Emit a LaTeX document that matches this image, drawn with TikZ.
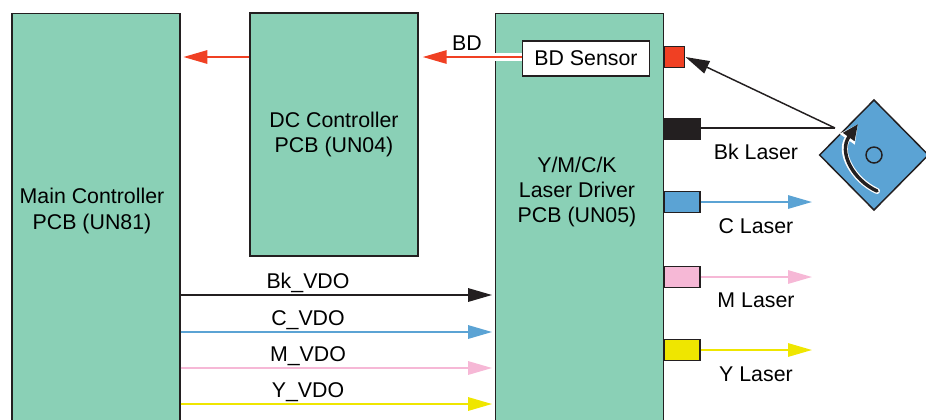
\documentclass[tikz,border=0pt]{standalone}
\usepackage{fontspec}
\setmainfont{Liberation Sans}
\usetikzlibrary{arrows.meta,positioning,calc,shapes.geometric}
\definecolor{pcb}{HTML}{8AD0B6}
\definecolor{ink}{HTML}{231F20}
\definecolor{bdred}{HTML}{F04023}
\definecolor{cblue}{HTML}{5BA3D4}
\definecolor{mpink}{HTML}{F6B8D6}
\definecolor{yyellow}{HTML}{EFE600}

\begin{document}
\begin{tikzpicture}[x=.75pt,y=-.75pt,font=\fontsize{16}{19}\selectfont,
 tip/.style={-{Triangle[length=18pt,width=#1]}},
 n/.style={draw=ink,fill=pcb,line width=1.1pt,minimum width=126pt,inner sep=0pt,align=center},
 t/.style={align=center,inner sep=0pt},
 ld/.style={draw=ink,line width=1.1pt,anchor=west,minimum height=16pt,minimum width=26.5pt,inner sep=0pt,fill=#1},
 a/.style={tip=10pt,line width=1.5pt,draw=#1,fill=#1,shorten >=2pt}]
\useasboundingbox (0,0) rectangle (926,419);
\clip (0,0) rectangle (926,419);
\node[n,minimum height=345pt,anchor=north] (main) at (96,12.5) {};
\node[t] (mainlabel) at (92,211) {Main Controller\\PCB (UN81)};
\node[n,minimum height=182pt] (dc) at (334,134.5) {DC Controller\\PCB (UN04)};
\node[n,minimum height=345pt,anchor=north] (driver) at (579.5,13) {};
\node[t] (driverlabel) at (577,192) {Y/M/C/K\\Laser Driver\\PCB (UN05)};
\node[draw=ink,fill=white,line width=1.1pt,minimum width=95pt,minimum height=26pt,inner sep=0pt] (sensor) at (586,58.5) {BD Sensor};
\node[ld=bdred,minimum width=15pt] (redld) at (664,57) {};
\node[ld=ink] (bkld) at (664,129) {};
\node[ld=cblue] (cld) at (664,202) {};
\node[ld=mpink] (mld) at (664,277) {};
\node[ld=yyellow] (yld) at (664,350) {};
\node[t] (bklabel) at (756,152) {Bk Laser};
\node[t] (clabel) at (756,226) {C Laser};
\node[t] (mlabel) at (756,300) {M Laser};
\node[t] (ylabel) at (756,374) {Y Laser};
\node[t] (bdlabel) at (467,43) {BD};
\node[t] (bkvdo) at (308,283) {Bk\_VDO};
\node[t] (cvdo) at (308,320) {C\_VDO};
\node[t] (mvdo) at (308,356) {M\_VDO};
\node[t] (yvdo) at (308,392) {Y\_VDO};
\node[diamond,aspect=1,draw=ink,fill=cblue,line width=1.1pt,minimum width=82pt,minimum height=83pt,inner sep=0pt] (polygon) at (874,155) {};
\node[circle,draw=ink,line width=1.1pt,minimum size=12pt,inner sep=0pt] (hub) at (874,155) {};
\coordinate (spot) at (835,128);
\coordinate (cend) at (812,202);
\coordinate (mend) at (812,277);
\coordinate (yend) at (812,350);
\coordinate (bkrow) at (300,295);
\coordinate (crow) at (300,332);
\coordinate (mrow) at (300,368);
\coordinate (yrow) at (300,404);
\coordinate (bdrow) at (300,57);
\coordinate (swing) at (877,191);
\coordinate (swingtip) at (858,124);
% BD signal
\draw[white,line width=6.5pt] (sensor.west|-bdrow) -- (driver.west|-bdrow);
\draw[a=bdred,shorten >=3pt] (sensor.west|-bdrow) -- (dc.east|-bdrow);
\draw[a=bdred] (dc.west|-bdrow) -- (main.east|-bdrow);
% video lines
\draw[a=ink] (main.east|-bkrow) -- (driver.west|-bkrow);
\draw[a=cblue] (main.east|-crow) -- (driver.west|-crow);
\draw[a=mpink] (main.east|-mrow) -- (driver.west|-mrow);
\draw[a=yyellow] (main.east|-yrow) -- (driver.west|-yrow);
% lasers
\draw[ink,line width=1.5pt] (bkld.east|-spot) -- (spot);
\draw[a=ink,line width=1.1pt,shorten >=0pt] (spot) -- (redld.east);
\draw[a=cblue,shorten >=0pt] (cld.east) -- (cend);
\draw[a=mpink,shorten >=0pt] (mld.east) -- (mend);
\draw[a=yyellow,shorten >=0pt] (yld.east) -- (yend);
% rotation
\draw[white,line width=4.5pt,line cap=round,-{Triangle[length=14pt,width=13pt]}] (swing) .. controls (853,180) and (838,152) .. (swingtip);
\draw[ink,line width=2.6pt,line cap=round,-{Triangle[length=12pt,width=10pt]}] (swing) .. controls (853,180) and (838,152) .. (swingtip);
\end{tikzpicture}
\end{document}
